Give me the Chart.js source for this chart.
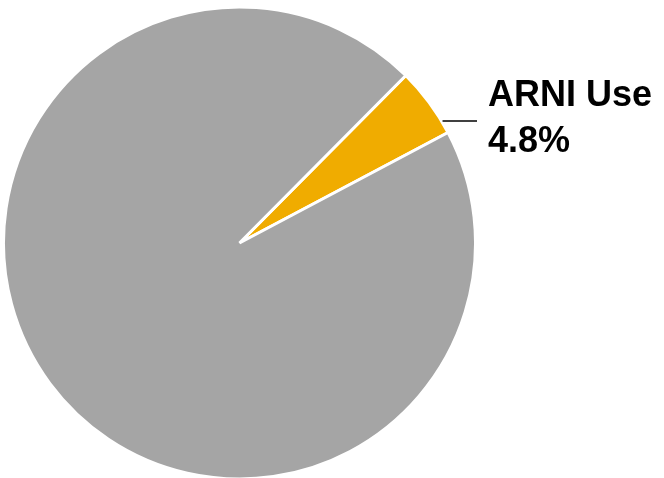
<!DOCTYPE html>
<html>
<head>
<meta charset="utf-8">
<script src="https://cdn.jsdelivr.net/npm/chart.js@4"></script>
<style>
    html, body { margin: 0; padding: 0; background: #fff; }
    #wrap { width: 664px; height: 478px; position: relative; }
</style>
</head>
<body>
<div id="wrap"><canvas id="pie-chart"></canvas></div>
<script>
const categories = ['ARNI Use', 'No ARNI Use'];
const shares = [4.8, 95.2];
const sliceColors = ['#F0AC00', '#A5A5A5'];
const calloutLabels = ['ARNI Use', '4.8%'];

// draws the callout with leader line next to the ARNI slice
const calloutPlugin = {
    id: 'callout',
    afterDatasetsDraw(chart) {
        const arc = chart.getDatasetMeta(0).data[0];
        if (!arc) return;
        const { ctx } = chart;
        const r = arc.outerRadius;
        const dy = -122;
        const lineY = arc.y + dy;
        const lineX = arc.x + Math.sqrt(r * r - dy * dy);
        ctx.save();
        ctx.strokeStyle = '#000';
        ctx.lineWidth = 1.5;
        ctx.beginPath();
        ctx.moveTo(lineX + 1, lineY);
        ctx.lineTo(477, lineY);
        ctx.stroke();
        ctx.fillStyle = '#000';
        ctx.font = 'bold 36px "Liberation Sans", Arial, sans-serif';
        ctx.textAlign = 'left';
        ctx.textBaseline = 'alphabetic';
        ctx.fillText(calloutLabels[0], 488, 106);
        ctx.fillText(calloutLabels[1], 488, 152);
        ctx.restore();
    }
};

new Chart(document.getElementById('pie-chart'), {
    type: 'pie',
    data: {
        labels: categories,
        datasets: [{
            data: shares,
            backgroundColor: sliceColors,
            borderColor: '#fff',
            borderWidth: 3,
            radius: 236
        }]
    },
    options: {
        responsive: true,
        maintainAspectRatio: false,
        animation: false,
        rotation: 44.8,
        layout: { padding: { left: 0, right: 185, top: 8, bottom: 0 } },
        plugins: {
            legend: { display: false },
            tooltip: { enabled: false }
        }
    },
    plugins: [calloutPlugin]
});
</script>
</body>
</html>
